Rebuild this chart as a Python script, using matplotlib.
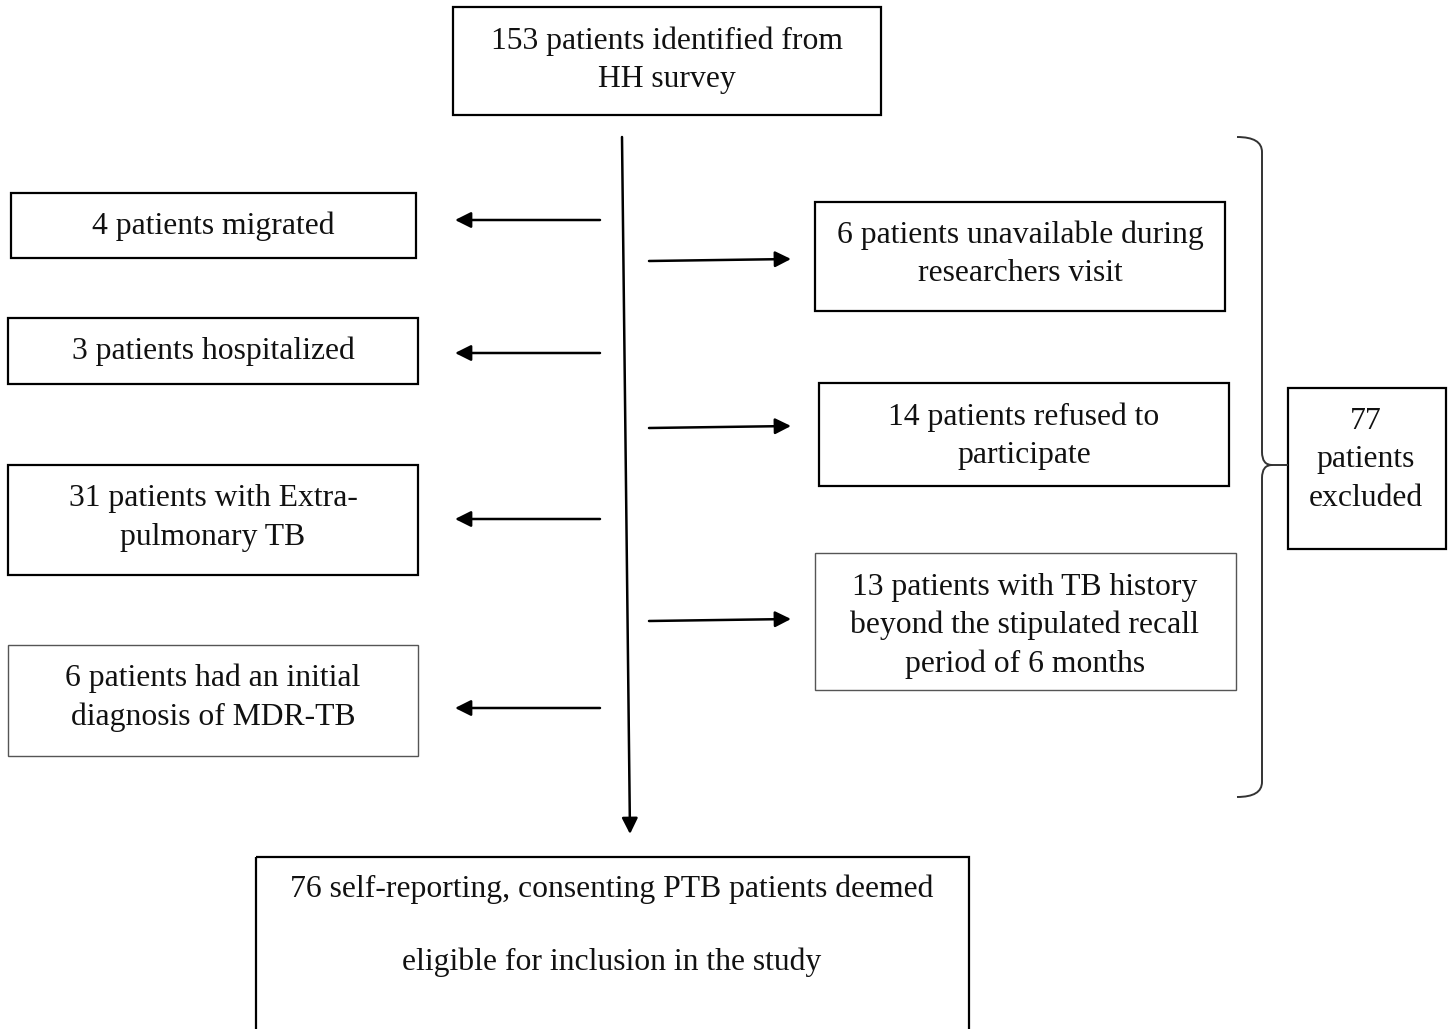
import matplotlib.pyplot as plt
from matplotlib.patches import Rectangle, PathPatch
from matplotlib.path import Path

plt.rcParams['font.family'] = ['Liberation Serif', 'DejaVu Serif']

# flow chart content
top_label = "153 patients identified from\nHH survey"
left_labels = [
    "4 patients migrated",
    "3 patients hospitalized",
    "31 patients with Extra-\npulmonary TB",
    "6 patients had an initial\ndiagnosis of MDR-TB",
]
right_labels = [
    "6 patients unavailable during\nresearchers visit",
    "14 patients refused to\nparticipate",
    "13 patients with TB history\nbeyond the stipulated recall\nperiod of 6 months",
]
excluded_label = "77\npatients\nexcluded"
final_label = "76 self-reporting, consenting PTB patients deemed\neligible for inclusion in the study"

# layout in pixel coords: (x0, y0, x1, y1, text_x, text_y)
top_box = (453, 7, 881, 115, 667, 60)
left_boxes = [
    (11, 193, 416, 258, 213, 226),
    (8, 318, 418, 384, 213, 351),
    (8, 465, 418, 575, 213, 518),
    (8, 645, 418, 756, 213, 698),
]
right_boxes = [
    (815, 202, 1225, 311, 1020, 254),
    (819, 383, 1229, 486, 1024, 436),
    (815, 553, 1236, 690, 1025, 626),
]
excluded_box = (1288, 388, 1446, 549, 1366, 460)
final_box = (256, 857, 969, 1060, 612, 926)
left_arrow_y = [220, 353, 519, 708]
right_arrow_y = [260, 427, 620]
light_boxes = {"6 patients had an initial\ndiagnosis of MDR-TB",
               "13 patients with TB history\nbeyond the stipulated recall\nperiod of 6 months"}

fig = plt.figure(figsize=(14.48, 10.29), dpi=100)
ax = fig.add_axes([0, 0, 1, 1])
ax.set_xlim(0, 1448)
ax.set_ylim(1029, 0)
ax.axis("off")

FS = 22.8


def draw_box(box, label, spacing=1.42):
    x0, y0, x1, y1, tx, ty = box
    light = label in light_boxes
    ax.add_patch(Rectangle((x0, y0), x1 - x0, y1 - y0, fill=False,
                           edgecolor="#555555" if light else "black",
                           lw=1.0 if light else 1.6))
    ax.text(tx, ty, label, ha="center", va="center", fontsize=FS,
            linespacing=spacing, color="#111111")


def arrow(start, end):
    ax.annotate("", xy=end, xytext=start,
                arrowprops=dict(arrowstyle="-|>", lw=1.8, color="black",
                                mutation_scale=24, shrinkA=0, shrinkB=0))


draw_box(top_box, top_label)
for box, lab in zip(left_boxes, left_labels):
    draw_box(box, lab)
for box, lab in zip(right_boxes, right_labels):
    draw_box(box, lab)
draw_box(excluded_box, excluded_label)
draw_box(final_box, final_label, spacing=2.93)

# main vertical arrow
arrow((622, 137), (630, 834))
for y in left_arrow_y:
    arrow((600, y), (455, y))
for y in right_arrow_y:
    arrow((649, y + 1), (791, y - 1))

# brace grouping the exclusions
verts = [(1237, 137), (1262, 137), (1262, 152),
         (1262, 452),
         (1262, 465), (1272, 465),
         (1288, 465),
         (1272, 465),
         (1262, 465), (1262, 478),
         (1262, 782),
         (1262, 797), (1237, 797)]
codes = [Path.MOVETO, Path.CURVE3, Path.CURVE3,
         Path.LINETO,
         Path.CURVE3, Path.CURVE3,
         Path.LINETO,
         Path.MOVETO,
         Path.CURVE3, Path.CURVE3,
         Path.LINETO,
         Path.CURVE3, Path.CURVE3]
ax.add_patch(PathPatch(Path(verts, codes), fill=False, edgecolor="#333333", lw=1.4))

fig.savefig("out.png", dpi=100)
